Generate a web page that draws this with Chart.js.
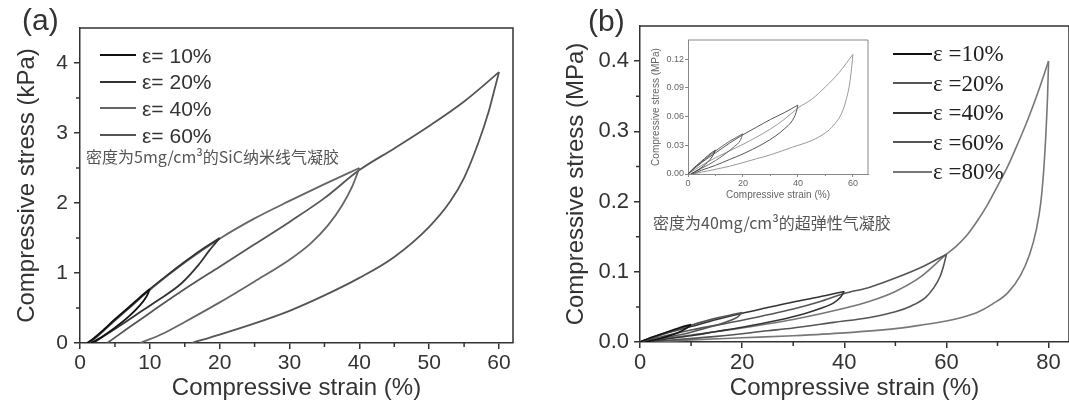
<!DOCTYPE html>
<html>
<head>
<meta charset="utf-8">
<script src="https://cdn.jsdelivr.net/npm/chart.js@4.4.0/dist/chart.umd.min.js"></script>
<style>
  html, body { margin: 0; padding: 0; background: #fff; }
  #wrap { position: relative; width: 1069px; height: 409px; overflow: hidden; }
  canvas { position: absolute; }
  .txt { position: absolute; white-space: nowrap; line-height: 1; }
  .key { position: absolute; height: 0; }
</style>
</head>
<body>
<div id="wrap">
  <canvas id="chartA" width="540" height="409" style="left:0;top:0"></canvas>
  <canvas id="chartB" width="529" height="409" style="left:540px;top:0"></canvas>
  <canvas id="chartInset" width="222" height="175" style="left:650px;top:30px"></canvas>
</div>
<script>
// ---- Panel (a): SiC nanowire aerogel, strain (%) vs stress (kPa)
const aLabels = ["ε= 10%", "ε= 20%", "ε= 40%", "ε= 60%"];
const aLoad10 = [[1,0],[2,0.07],[3.5,0.2],[5,0.34],[6.5,0.47],[8,0.6],[9,0.69],[10,0.77]];
const aUnload10 = [[1.6,0],[3,0.08],[5,0.22],[7,0.38],[8.5,0.53],[9.5,0.66],[10,0.77]];
const aLoad20 = [[1.2,0],[3,0.15],[5,0.33],[7.5,0.55],[10,0.77],[12.5,0.97],[15,1.16],[17.5,1.34],[20,1.5]];
const aUnload20 = [[1.9,0],[5,0.2],[8,0.4],[11,0.6],[14.5,0.85],[17,1.12],[18.5,1.32],[19.5,1.44],[20,1.5]];
const aLoad40 = [[1.4,0],[3,0.14],[5,0.32],[7.5,0.54],[10,0.76],[15,1.15],[20,1.49],[25,1.78],[30,2.03],[35,2.27],[40,2.5]];
const aUnload40 = [[8.6,0],[12,0.14],[15,0.3],[20,0.58],[25,0.88],[30,1.19],[33,1.42],[35.5,1.68],[37.5,1.96],[39,2.24],[40,2.5]];
const aLoad60 = [[3.9,0],[7,0.22],[10,0.43],[15,0.77],[20,1.09],[25,1.41],[30,1.73],[35,2.07],[40,2.47],[45,2.78],[50,3.1],[55,3.45],[60,3.87]];
const aUnload60 = [[16,0],[20,0.12],[25,0.28],[30,0.46],[35,0.68],[40,0.93],[45,1.23],[50,1.66],[53,2.02],[55,2.36],[57,2.85],[58.5,3.3],[59.5,3.68],[60,3.87]];
const aTicksX = [0, 10, 20, 30, 40, 50, 60];
const aTicksY = [0, 1, 2, 3, 4];
const aMinorX = [5, 15, 25, 35, 45, 55];
const aMinorY = [0.5, 1.5, 2.5, 3.5];

// ---- Panel (b): superelastic aerogel, strain (%) vs stress (MPa)
const bLabels = ["ε =10%", "ε =20%", "ε =40%", "ε =60%", "ε =80%"];
const bLoad10 = [[0,0],[2,0.006],[4,0.011],[6,0.016],[8,0.021],[10,0.025]];
const bUnload10 = [[1,0],[4,0.005],[7,0.012],[9,0.019],[10,0.025]];
const bLoad20 = [[0,0],[3,0.008],[6,0.015],[10,0.024],[15,0.034],[20,0.042]];
const bUnload20 = [[1,0],[5,0.006],[10,0.014],[14,0.022],[17,0.029],[19,0.035],[20,0.042]];
const bLoad40 = [[0,0],[5,0.012],[10,0.022],[15,0.032],[20,0.041],[25,0.049],[30,0.057],[35,0.064],[40,0.072]];
const bUnload40 = [[1.5,0],[5,0.004],[10,0.009],[15,0.015],[20,0.021],[27,0.031],[32,0.04],[35,0.047],[38,0.056],[39.3,0.064],[40,0.072]];
const bLoad60 = [[0,0],[5,0.009],[10,0.017],[20,0.031],[30,0.047],[35,0.057],[40,0.069],[45,0.078],[50,0.091],[55,0.106],[60,0.125]];
const bUnload60 = [[2,0],[5,0.002],[15,0.008],[25,0.016],[30,0.02],[38,0.028],[45,0.035],[50,0.043],[53,0.051],[56,0.064],[57.5,0.077],[58.8,0.094],[59.5,0.11],[60,0.125]];
const bLoad80 = [[0,0],[10,0.01],[20,0.02],[30,0.032],[40,0.048],[45,0.058],[50,0.072],[55,0.093],[60,0.125],[62,0.137],[64,0.152],[66,0.172],[68,0.195],[70,0.222],[72,0.25],[74,0.283],[76,0.318],[78,0.357],[80,0.4]];
const bUnload80 = [[3,0],[10,0.003],[20,0.006],[30,0.009],[40,0.013],[50,0.019],[55,0.024],[60,0.03],[63,0.035],[66,0.042],[69,0.054],[72,0.07],[74.5,0.095],[76.3,0.125],[77.6,0.16],[78.5,0.2],[79.1,0.25],[79.5,0.3],[79.8,0.35],[80,0.4]];
const bTicksX = [0, 20, 40, 60, 80];
const bTicksY = [0, 0.1, 0.2, 0.3, 0.4];
const bMinorX = [10, 30, 50, 70];
const bMinorY = [0.05, 0.15, 0.25, 0.35];

// ---- Inset of (b)
const inTicksX = [0, 20, 40, 60];
const inTicksY = [0, 0.03, 0.06, 0.09, 0.12];
const inMinorX = [10, 30, 50];

const SANS = '"Liberation Sans", Arial, sans-serif';
const SERIF = '"Liberation Serif", "Times New Roman", serif';
const CJK = '"Noto Sans CJK SC", "Noto Sans", sans-serif';
const INK = "#333";

const aColors = ["#111", "#333", "#666", "#555"];
const bColors = ["#111", "#555", "#333", "#555", "#777"];
const inColors = ["#444", "#666", "#555", "#999"];

// frame (top/right) and minor ticks, placed through the chart scales
const framePlugin = {
  id: "frame",
  afterDraw(chart, args, o) {
    const { ctx, chartArea: a, scales: { x, y } } = chart;
    ctx.save();
    ctx.strokeStyle = o.color;
    ctx.lineWidth = o.width;
    ctx.beginPath();
    ctx.moveTo(a.left, a.top);
    ctx.lineTo(a.right, a.top);
    ctx.lineTo(a.right, a.bottom);
    ctx.stroke();
    ctx.beginPath();
    (o.minorX || []).forEach(v => {
      const px = x.getPixelForValue(v);
      ctx.moveTo(px, a.bottom);
      ctx.lineTo(px, a.bottom + o.minorLen);
    });
    (o.minorY || []).forEach(v => {
      const py = y.getPixelForValue(v);
      ctx.moveTo(a.left, py);
      ctx.lineTo(a.left - o.minorLen, py);
    });
    ctx.stroke();
    ctx.restore();
  }
};

function toPts(arr) {
  return arr.map(p => ({ x: p[0], y: p[1] }));
}

function loopSets(curves, colors, width) {
  const sets = [];
  curves.forEach((c, i) => {
    [c[0], c[1]].forEach(part => {
      sets.push({
        data: toPts(part),
        borderColor: colors[i],
        borderWidth: width,
        pointRadius: 0,
        fill: false,
        cubicInterpolationMode: "monotone"
      });
    });
  });
  return sets;
}

function axis(o) {
  return {
    type: "linear",
    min: o.min,
    max: o.max,
    afterBuildTicks: s => { s.ticks = o.ticks.map(v => ({ value: v })); },
    afterFit: s => { if (o.horiz) s.height = o.size; else s.width = o.size; },
    grid: { display: true, drawOnChartArea: false, drawTicks: true, tickLength: o.tickLen, color: o.color, lineWidth: o.lw },
    border: { display: true, color: o.color, width: o.lw },
    ticks: {
      font: { family: SANS, size: o.tickFont },
      color: o.textColor,
      padding: o.pad,
      maxRotation: 0,
      autoSkip: false,
      callback: o.fmt || (v => v)
    },
    title: {
      display: true,
      text: o.title,
      font: { family: SANS, size: o.titleFont },
      color: o.textColor,
      padding: o.titlePad
    }
  };
}

function makeChart(id, sets, cfg) {
  return new Chart(document.getElementById(id), {
    type: "line",
    data: { datasets: sets },
    options: {
      responsive: false,
      animation: false,
      layout: { padding: cfg.padding },
      plugins: {
        legend: { display: false },
        tooltip: { enabled: false },
        frame: cfg.frame
      },
      scales: { x: cfg.x, y: cfg.y }
    },
    plugins: [framePlugin]
  });
}

// Panel (a)
makeChart("chartA",
  loopSets([[aLoad10, aUnload10], [aLoad20, aUnload20], [aLoad40, aUnload40], [aLoad60, aUnload60]], aColors, 1.8),
  {
    padding: { top: 28, right: 27, bottom: 0, left: 0 },
    frame: { color: INK, width: 1.5, minorX: aMinorX, minorY: aMinorY, minorLen: 4 },
    x: axis({ horiz: true, min: 0, max: 62, ticks: aTicksX, size: 66, tickLen: 6, color: INK, lw: 1.5,
              tickFont: 21, textColor: INK, pad: 2, title: "Compressive strain (%)", titleFont: 24,
              titlePad: { top: 0, bottom: 6 } }),
    y: axis({ horiz: false, min: 0, max: 4.5, ticks: aTicksY, size: 80, tickLen: 6, color: INK, lw: 1.5,
              tickFont: 21, textColor: INK, pad: 6, title: "Compressive stress (kPa)", titleFont: 24,
              titlePad: { top: 13, bottom: 0 } })
  });

// Panel (b)
makeChart("chartB",
  loopSets([[bLoad10, bUnload10], [bLoad20, bUnload20], [bLoad40, bUnload40], [bLoad60, bUnload60], [bLoad80, bUnload80]], bColors, 1.6),
  {
    padding: { top: 26, right: 0, bottom: 0, left: 0 },
    frame: { color: INK, width: 1.5, minorX: bMinorX, minorY: bMinorY, minorLen: 4 },
    x: axis({ horiz: true, min: 0, max: 84, ticks: bTicksX, size: 67, tickLen: 6, color: INK, lw: 1.5,
              tickFont: 22, textColor: INK, pad: 2, title: "Compressive strain (%)", titleFont: 24,
              titlePad: { top: 0, bottom: 6 } }),
    y: axis({ horiz: false, min: 0, max: 0.45, ticks: bTicksY, size: 100, tickLen: 6, color: INK, lw: 1.5,
              tickFont: 22, textColor: INK, pad: 5, title: "Compressive stress (MPa)", titleFont: 24,
              titlePad: { top: 22, bottom: 0 }, fmt: v => v.toFixed(1) })
  });

// Inset (same loops up to 60 %)
makeChart("chartInset",
  loopSets([[bLoad10, bUnload10], [bLoad20, bUnload20], [bLoad40, bUnload40], [bLoad60, bUnload60]], inColors, 1),
  {
    padding: { top: 10, right: 4, bottom: 0, left: 0 },
    frame: { color: "#888", width: 1, minorX: inMinorX, minorY: [], minorLen: 2 },
    x: axis({ horiz: true, min: 0, max: 65.5, ticks: inTicksX, size: 31, tickLen: 3, color: "#888", lw: 1,
              tickFont: 9, textColor: "#666", pad: 1, title: "Compressive strain (%)", titleFont: 10,
              titlePad: { top: 0, bottom: 4 } }),
    y: axis({ horiz: false, min: 0, max: 0.14, ticks: inTicksY, size: 38, tickLen: 3, color: "#888", lw: 1,
              tickFont: 9, textColor: "#666", pad: 1, title: "Compressive stress (MPa)", titleFont: 10,
              titlePad: { top: 0, bottom: 0 }, fmt: v => v.toFixed(2) })
  });

// ---- text overlays: panel letters, legends, notes
const wrap = document.getElementById("wrap");

function addText(text, left, cy, size, family, color) {
  const d = document.createElement("div");
  d.className = "txt";
  d.textContent = text;
  d.style.left = left + "px";
  d.style.top = (cy - size / 2) + "px";
  d.style.fontSize = size + "px";
  d.style.fontFamily = family;
  d.style.color = color;
  wrap.appendChild(d);
  return d;
}

function addKey(left, width, cy, color, thick) {
  const d = document.createElement("div");
  d.className = "key";
  d.style.left = left + "px";
  d.style.width = width + "px";
  d.style.top = (cy - thick / 2) + "px";
  d.style.borderTop = thick + "px solid " + color;
  wrap.appendChild(d);
}

addText("(a)", 22, 20, 30, SANS, INK);
addText("(b)", 588, 21, 30, SANS, INK);

aLabels.forEach((t, i) => {
  const cy = 55 + i * 26.7;
  addKey(100, 36, cy, aColors[i], 2);
  addText(t, 142, cy, 21, SANS, INK);
});

bLabels.forEach((t, i) => {
  const cy = 53.5 + i * 29.6;
  addKey(893, 39, cy, bColors[i], 2);
  addText(t, 933, cy, 23, SERIF, "#222");
});

addText("密度为5mg/cm³的SiC纳米线气凝胶", 86, 156, 16, CJK, "#555");
addText("密度为40mg/cm³的超弹性气凝胶", 653, 222, 16, CJK, "#555");
</script>
</body>
</html>
